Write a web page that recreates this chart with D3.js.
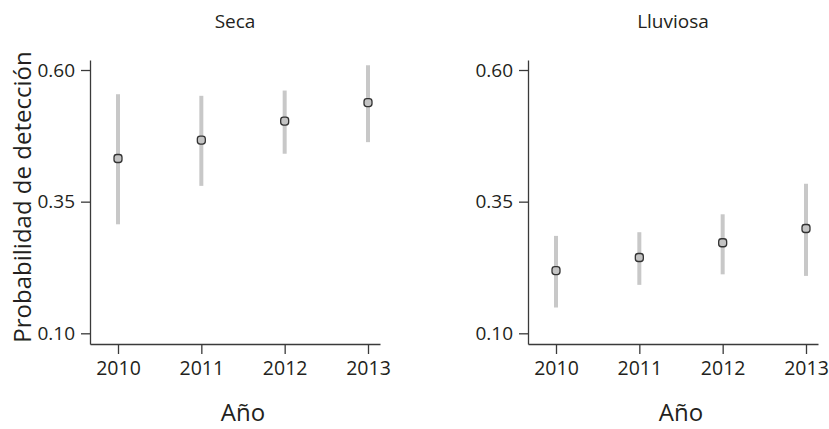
<!DOCTYPE html>
<html>
<head>
<meta charset="utf-8">
<script src="https://cdn.jsdelivr.net/npm/d3@7"></script>
<style>
  body { margin: 0; background: #fff; }
  svg text { font-family: "Open Sans", "Noto Sans", sans-serif; fill: #231f20; }
  .axis path, .axis line { stroke: #3a3a3a; stroke-width: 1.3; }
</style>
</head>
<body>
<div id="chart"></div>
<script>
// data
const years = [2010, 2011, 2012, 2013];
const yTicks = [0.10, 0.35, 0.60];
const panels = ["Seca", "Lluviosa"];

const secaEst = [0.432, 0.467, 0.503, 0.538];
const secaLow = [0.307, 0.380, 0.441, 0.463];
const secaHigh = [0.554, 0.551, 0.561, 0.609];

const lluviosaEst = [0.219, 0.244, 0.272, 0.299];
const lluviosaLow = [0.149, 0.192, 0.212, 0.209];
const lluviosaHigh = [0.285, 0.292, 0.326, 0.384];

(() => {
  const width = 829,
    height = 429;

  const svg = d3
    .select("#chart")
    .append("svg")
    .attr("width", width)
    .attr("height", height);

  const series = [
    { name: panels[0], est: secaEst, low: secaLow, high: secaHigh, left: 90 },
    { name: panels[1], est: lluviosaEst, low: lluviosaLow, high: lluviosaHigh, left: 528 }
  ];

  const plotW = 290,
    top = 60,
    bottom = 344;

  // shared y scale (both panels use same range)
  const y = d3.scaleLinear().domain([0.0797, 0.619]).range([bottom, top]);

  series.forEach((s) => {
    const g = svg.append("g").attr("transform", "translate(" + s.left + ",0)");

    const x = d3
      .scaleLinear()
      .domain([2009.664, 2013.144])
      .range([0, plotW]);

    // y axis
    g.append("g")
      .attr("class", "axis")
      .call(
        d3.axisLeft(y)
          .tickValues(yTicks)
          .tickFormat(d3.format(".2f"))
          .tickSize(9)
          .tickSizeOuter(0)
          .tickPadding(6)
      )
      .call((a) => a.selectAll("text").style("font-size", "19px"));

    // x axis
    g.append("g")
      .attr("class", "axis")
      .attr("transform", "translate(0," + bottom + ")")
      .call(
        d3.axisBottom(x)
          .tickValues(years)
          .tickFormat(d3.format("d"))
          .tickSize(10)
          .tickSizeOuter(0)
          .tickPadding(7)
      )
      .call((a) => a.selectAll("text").style("font-size", "19.5px"));

    // error bars
    g.selectAll(".bar")
      .data(years)
      .enter()
      .append("line")
      .attr("class", "bar")
      .attr("x1", (d) => x(d))
      .attr("x2", (d) => x(d))
      .attr("y1", (d, i) => y(s.low[i]))
      .attr("y2", (d, i) => y(s.high[i]))
      .attr("stroke", "#c8c8c8")
      .attr("stroke-width", 4);

    // point estimates
    g.selectAll(".pt")
      .data(years)
      .enter()
      .append("rect")
      .attr("class", "pt")
      .attr("x", (d) => x(d) - 4)
      .attr("y", (d, i) => y(s.est[i]) - 4)
      .attr("width", 8)
      .attr("height", 8)
      .attr("rx", 2.8)
      .attr("fill", "#c4c4c4")
      .attr("stroke", "#333")
      .attr("stroke-width", 1.3);

    // panel title
    g.append("text")
      .attr("x", plotW / 2)
      .attr("y", 28)
      .attr("text-anchor", "middle")
      .style("font-size", "19px")
      .text(s.name);

    // x label
    g.append("text")
      .attr("x", (x(years[0]) + x(years[3])) / 2)
      .attr("y", 421)
      .attr("text-anchor", "middle")
      .style("font-size", "24px")
      .text("Año");
  });

  // y label
  svg.append("text")
    .attr("transform", "translate(31,197)rotate(-90)")
    .attr("text-anchor", "middle")
    .style("font-size", "24px")
    .text("Probabilidad de detección");
})();
</script>
</body>
</html>
